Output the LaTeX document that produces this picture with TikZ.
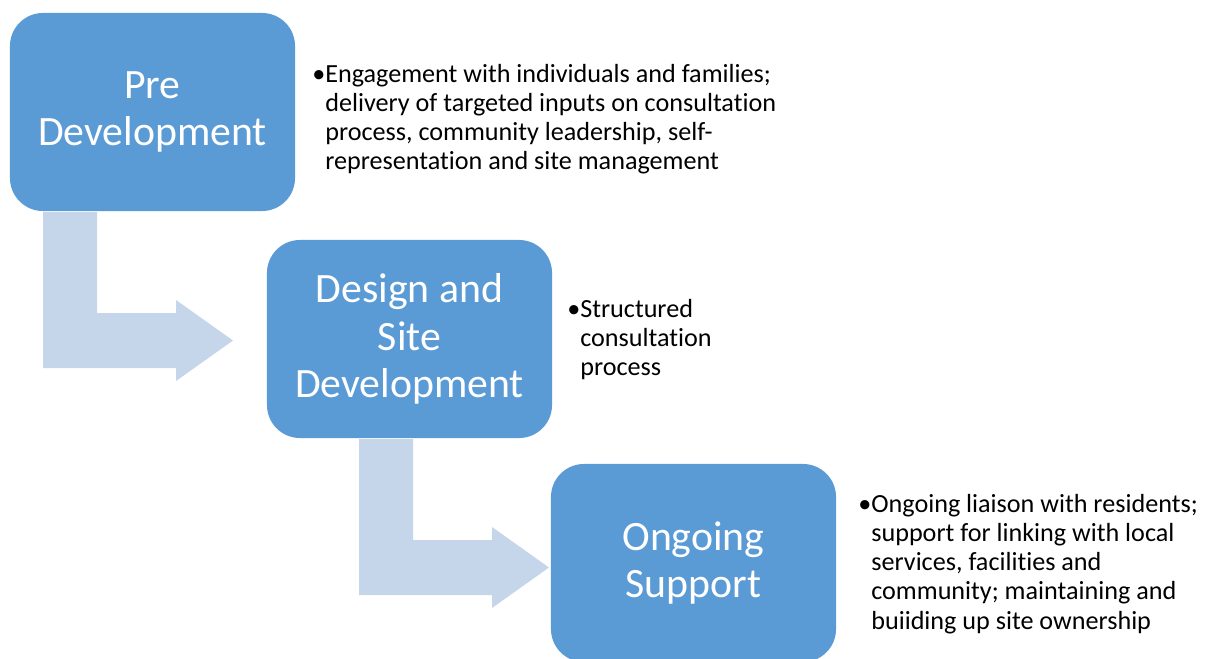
\documentclass[tikz,border=0pt]{standalone}
\usepackage{fontspec}
\setmainfont{Carlito}[Ligatures=CommonOff]
\usepackage{tikz}
\definecolor{stageblue}{HTML}{5B9BD5}
\definecolor{flowblue}{HTML}{C5D5EA}
\tikzset{
  stage/.style={fill=stageblue, draw=none, rounded corners=0.825cm,
    minimum width=7.125cm, minimum height=4.95cm, text=white,
    align=center, font=\fontsize{29.7}{33.6}\selectfont},
  info/.style={anchor=base west, inner sep=0pt,
    font=\fontsize{18.6}{20.8}\selectfont},
  flow/.style={fill=flowblue, draw=none}
}
\newcommand{\drawbentarrow}[1]{
  \begin{scope}[shift={#1}]
  \fill[flow] (0,0) -- ++(54,0) -- ++(0,101) -- ++(79,0) -- ++(0,-13)
    -- ++(57,40.5) -- ++(-57,40.5) -- ++(0,-13) -- ++(-133,0) -- cycle;
  \end{scope}
}

\begin{document}
\begin{tikzpicture}[x=0.025cm,y=-0.025cm]
      \useasboundingbox (0,0) rectangle (1209,658);
      \node[stage] (pre) at (152.5,112) {Pre\\Development};
      \node[stage] (design) at (409.5,339) {Design and\\Site\\Development};
      \node[stage] (ongoing) at (693.5,563) {Ongoing\\Support};
      %% bent arrows between the stages
      \coordinate (flowA) at (43,212);
      \coordinate (flowB) at (359,439);
      \drawbentarrow{(flowA)}
      \drawbentarrow{(flowB)}
      %% bullet texts
      \node[info] (preinfo) at (312,82) {\begin{tabular}[t]{@{}l@{}l@{}}
        \textbullet & Engagement with individuals and families;\\
        & delivery of targeted inputs on consultation\\
        & process, community leadership, self-\\
        & representation and site management\end{tabular}};
      \node[info] (designinfo) at (567,317) {\begin{tabular}[t]{@{}l@{}l@{}}
        \textbullet & Structured\\
        & consultation\\
        & process\end{tabular}};
      \node[info] (ongoinginfo) at (858,512) {\begin{tabular}[t]{@{}l@{}l@{}}
        \textbullet & Ongoing liaison with residents;\\
        & support for linking with local\\
        & services, facilities and\\
        & community; maintaining and\\
        & buiiding up site ownership\end{tabular}};
    \end{tikzpicture}
\end{document}
